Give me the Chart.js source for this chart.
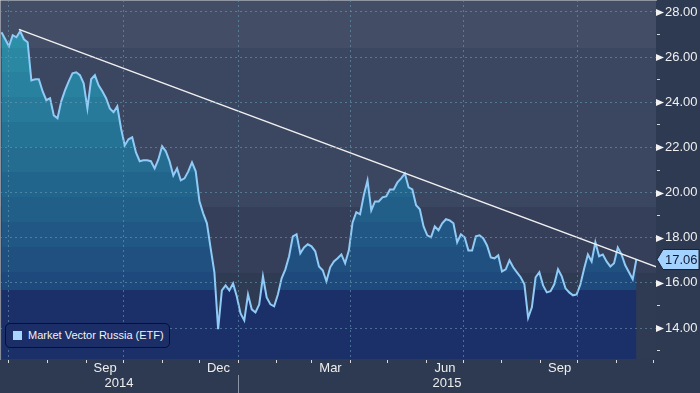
<!DOCTYPE html>
<html>
<head>
<meta charset="utf-8">
<script src="https://cdn.jsdelivr.net/npm/chart.js@4.4.1/dist/chart.umd.min.js"></script>
<style>
  html, body { margin: 0; padding: 0; background: #2e3a52; }
  #wrap { position: relative; width: 700px; height: 393px; overflow: hidden; }
  #legend {
    position: absolute; left: 5px; top: 323px; width: 163px; height: 23px;
    background: #1b2e68; border: 1px solid #0b1122; border-radius: 5px;
    font: 11px "Liberation Sans", Arial, sans-serif; color: #f2f2f2;
  }
  #legend .swatch { position: absolute; left: 7px; top: 7px; width: 9px; height: 9px; background: #a8d5ff; }
  #legend .txt { position: absolute; left: 22px; top: 5px; line-height: 13px; white-space: nowrap; }
</style>
</head>
<body>
<div id="wrap">
  <canvas id="chart" width="700" height="393"></canvas>
  <div id="legend"><span class="swatch"></span><span class="txt" id="legendText"></span></div>
</div>
<script>
"use strict";

/* Data: sampled every 3 days from 2014-06-25 */
const startDate = "2014-06-25";
const stepDays = 3;
const prices = [
  27.10, 26.79, 26.48, 26.97, 26.88, 27.15, 26.79, 26.66, 24.97, 25.02,
  25.02, 24.49, 24.09, 24.18, 23.42, 23.29, 24.04, 24.53, 24.93, 25.28,
  25.33, 25.20, 24.84, 23.73, 25.02, 25.20, 24.75, 24.49, 24.18, 23.73,
  23.56, 23.82, 22.85, 22.09, 22.36, 22.45, 21.78, 21.39, 21.43, 21.43,
  21.39, 21.07, 21.47, 22.05, 21.83, 21.39, 20.76, 21.07, 20.54, 20.63,
  20.94, 21.34, 20.94, 19.61, 19.08, 18.64, 17.53, 16.47, 13.95, 15.67,
  15.89, 15.67, 15.98, 15.40, 14.65, 14.34, 15.49, 14.83, 14.69, 15.05,
  16.29, 15.36, 15.05, 14.96, 15.49, 16.20, 16.60, 17.18, 18.06, 18.15,
  17.31, 17.57, 17.71, 17.62, 17.40, 16.73, 16.56, 16.07, 16.69, 16.95,
  17.09, 17.26, 16.87, 17.44, 18.68, 19.13, 19.04, 19.88, 20.54, 19.21,
  19.61, 19.61, 19.79, 19.83, 20.14, 20.14, 20.45, 20.63, 20.85, 20.23,
  20.14, 19.44, 19.26, 18.50, 18.11, 18.02, 18.50, 18.33, 18.64, 18.82,
  18.77, 18.64, 17.80, 18.15, 18.02, 17.44, 17.44, 18.06, 18.11, 17.97,
  17.66, 17.13, 17.09, 17.22, 16.51, 16.60, 17.00, 16.69, 16.47, 16.25,
  15.94, 14.45, 14.92, 16.25, 16.47, 15.89, 15.58, 15.63, 15.94, 16.60,
  16.29, 15.76, 15.58, 15.45, 15.49, 15.94, 16.64, 17.26, 16.95, 17.80,
  17.18, 17.26, 16.95, 16.73, 16.87, 17.57, 17.26, 16.78, 16.47, 16.16,
  17.06
];
const trendDates = ["2014-07-09", "2015-12-03"];
const trendValues = [27.23, 16.71];

const monthTicks = [
  "2014-07-01", "2014-08-01", "2014-09-01", "2014-10-01", "2014-11-01", "2014-12-01",
  "2015-01-01", "2015-02-01", "2015-03-01", "2015-04-01", "2015-05-01", "2015-06-01",
  "2015-07-01", "2015-08-01", "2015-09-01", "2015-10-01", "2015-11-01", "2015-12-01"
];
const labelMonths = ["2014-09-01", "2014-12-01", "2015-03-01", "2015-06-01", "2015-09-01"];
const labelNames = ["Sep", "Dec", "Mar", "Jun", "Sep"];
const yearLabels = ["2014", "2015"];
const yearBreak = "2015-01-01";
const priceTicks = [14, 16, 18, 20, 22, 24, 26, 28];
const minorTicks = [13, 15, 17, 19, 21, 23, 25, 27];

/* Hjälpfunktioner */
const day0 = Date.parse("2014-07-01");
function toDay(s) {
  return (Date.parse(s) - day0) / 86400000;
}

const pricePoints = prices.map((v, i) => ({ x: toDay(startDate) + i * stepDays, y: v }));
const trendPoints = trendDates.map((d, i) => ({ x: toDay(d), y: trendValues[i] }));

const gridColor = "rgba(105, 155, 180, 0.6)";
const bgBands = [[0, 48, "#434e66"], [48, 207, "#3b4660"], [207, 273, "#353f59"], [273, 359, "#2f3a53"]];
const fillEdges = [0, 48, 72, 97, 122, 147, 172, 197, 222, 247, 272, 290, 359];
const fillColors = ["#2b8fa8", "#2a88a3", "#28819e", "#277a99", "#257394", "#246c90",
  "#22658c", "#215e88", "#205784", "#1f5080", "#1e497c", "#1b2f69"];

function areaFill(c) {
  const chart = c.chart;
  const a = chart.chartArea;
  if (!a) return "#1b2f69";
  const g = chart.ctx.createLinearGradient(0, a.top, 0, a.bottom);
  const h = fillEdges[fillEdges.length - 1];
  fillColors.forEach((col, i) => {
    g.addColorStop(fillEdges[i] / h, col);
    g.addColorStop(fillEdges[i + 1] / h, col);
  });
  return g;
}

/* Bakgrund, pilar och etikett för sista värdet */
const decor = {
  id: "decor",
  beforeDraw(chart) {
    const { ctx, chartArea: a } = chart;
    const h = a.bottom - a.top;
    const full = bgBands[bgBands.length - 1][1];
    ctx.save();
    ctx.fillStyle = "#2e3a52";
    ctx.fillRect(0, 0, chart.width, chart.height);
    bgBands.forEach(([y0, y1, col]) => {
      ctx.fillStyle = col;
      ctx.fillRect(a.left, a.top + y0 / full * h, a.right - a.left, (y1 - y0) / full * h);
    });
    ctx.restore();
  },
  afterDraw(chart) {
    const y = chart.scales.y;
    const ctx = chart.ctx;
    ctx.save();
    ctx.fillStyle = "#f2f2f2";
    y.ticks.forEach(t => {
      if (priceTicks.includes(t.value)) {
        const p = Math.round(y.getPixelForValue(t.value)) + 0.5;
        ctx.beginPath();
        ctx.moveTo(y.left, p - 3.5);
        ctx.lineTo(y.left + 8, p);
        ctx.lineTo(y.left, p + 3.5);
        ctx.closePath();
        ctx.fill();
      }
    });
    const last = prices[prices.length - 1];
    const p = Math.round(y.getPixelForValue(last)) + 0.5;
    ctx.beginPath();
    ctx.moveTo(y.left + 1, p);
    ctx.lineTo(y.left + 7, p - 10);
    ctx.lineTo(chart.width - 1, p - 10);
    ctx.lineTo(chart.width - 1, p + 10);
    ctx.lineTo(y.left + 7, p + 10);
    ctx.closePath();
    ctx.fillStyle = "#a3d2ff";
    ctx.fill();
    ctx.strokeStyle = "#1a2236";
    ctx.lineWidth = 1;
    ctx.stroke();
    ctx.fillStyle = "#0f1a30";
    ctx.font = '13px "Liberation Sans", Arial, sans-serif';
    ctx.textAlign = "left";
    ctx.textBaseline = "middle";
    ctx.fillText(last.toFixed(2), y.left + 9, p + 1);
    ctx.restore();
  }
};

Chart.defaults.font.family = '"Liberation Sans", Arial, sans-serif';
Chart.defaults.font.size = 13;
Chart.defaults.color = "#eeeeee";

const chart = new Chart(document.getElementById("chart"), {
  type: "line",
  data: {
    datasets: [
      {
        label: "Trend",
        data: trendPoints,
        borderColor: "#f0f0f0",
        borderWidth: 1.5,
        pointRadius: 0,
        fill: false
      },
      {
        label: "Market Vector Russia (ETF)",
        data: pricePoints,
        borderColor: "#8fcbf6",
        borderWidth: 2,
        pointRadius: 0,
        tension: 0,
        fill: "start",
        backgroundColor: areaFill
      }
    ]
  },
  options: {
    responsive: false,
    animation: false,
    devicePixelRatio: 1,
    layout: { padding: 0 },
    plugins: { legend: { display: false }, tooltip: { enabled: false } },
    scales: {
      x: {
        type: "linear",
        position: "bottom",
        weight: 0,
        min: -7.2,
        max: 519.7,
        afterBuildTicks: s => { s.ticks = monthTicks.map(d => ({ value: toDay(d) })); },
        afterFit: s => { s.height = 16; s.paddingLeft = 0; s.paddingRight = 0; },
        grid: {
          z: 1,
          drawOnChartArea: true,
          tickLength: 4,
          color: c => (["01", "04", "07", "10"].includes((monthTicks[c.index] || "").slice(5, 7)) ? gridColor : "transparent"),
          tickColor: "#d9d9d9"
        },
        border: { display: true, color: "#dcdcdc", width: 1, dash: [2, 3] },
        ticks: {
          autoSkip: false,
          maxRotation: 0,
          padding: -2,
          labelOffset: 19,
          callback: (v, i) => {
            const k = labelMonths.indexOf(monthTicks[i]);
            return k >= 0 ? labelNames[k] : "";
          }
        }
      },
      xYear: {
        type: "linear",
        position: "bottom",
        weight: 1,
        min: -7.2,
        max: 519.7,
        afterBuildTicks: s => {
          const b = toDay(yearBreak);
          s.ticks = [{ value: (s.min + b) / 2 }, { value: b }, { value: (b + s.max) / 2 }];
        },
        afterFit: s => { s.height = 18; s.paddingLeft = 0; s.paddingRight = 0; },
        grid: {
          drawOnChartArea: false,
          tickLength: 18,
          color: "transparent",
          tickColor: c => (c.index === 1 ? "#8c95a7" : "transparent")
        },
        border: { display: false },
        ticks: {
          autoSkip: false,
          maxRotation: 0,
          padding: -17,
          callback: (v, i) => (i === 0 ? yearLabels[0] : i === 2 ? yearLabels[1] : "")
        }
      },
      y: {
        type: "linear",
        position: "right",
        min: 12.63,
        max: 28.53,
        afterBuildTicks: s => {
          s.ticks = minorTicks.concat(priceTicks).sort((a, b) => a - b).map(v => ({ value: v }));
        },
        afterFit: s => { s.width = 44; s.paddingTop = 0; s.paddingBottom = 0; },
        grid: {
          z: 1,
          tickLength: 4,
          color: c => (c.tick && priceTicks.includes(c.tick.value) ? gridColor : "transparent"),
          tickColor: c => (c.tick && priceTicks.includes(c.tick.value) ? "transparent" : "#d9d9d9")
        },
        border: { display: true, color: "#dcdcdc", width: 1, dash: [2, 3] },
        ticks: {
          padding: 5,
          color: "#f0f0f0",
          callback: v => (priceTicks.includes(v) ? v.toFixed(2) : "")
        }
      }
    }
  },
  plugins: [decor]
});

document.getElementById("legendText").textContent = chart.data.datasets[1].label;
</script>
</body>
</html>
